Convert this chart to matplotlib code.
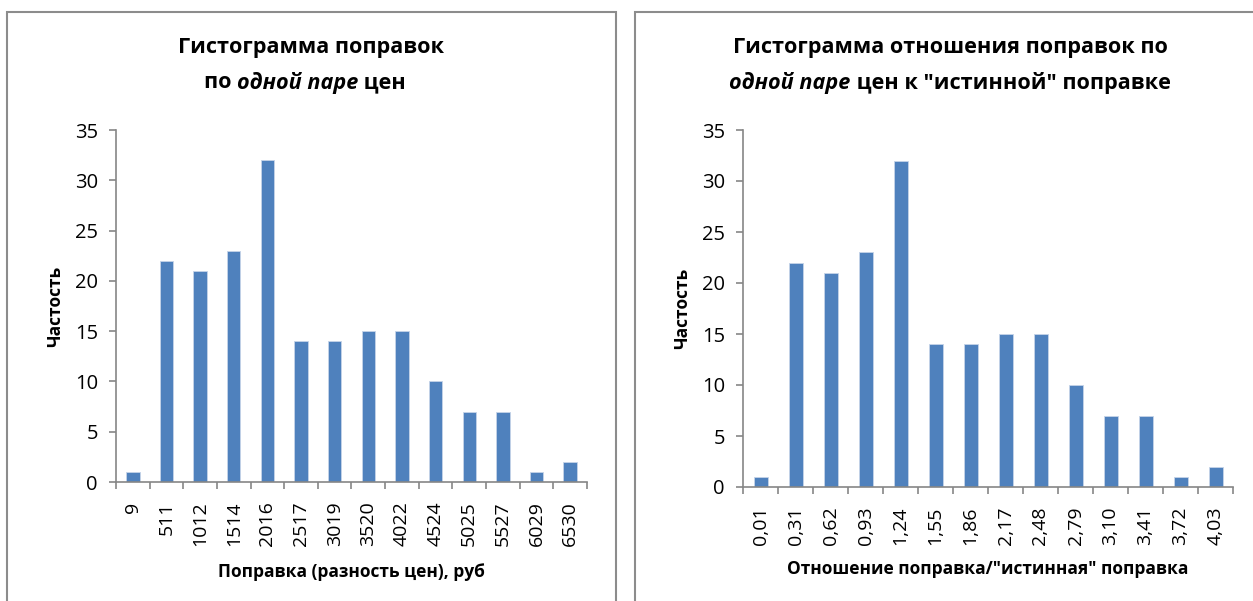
import matplotlib
matplotlib.use('Agg')
import matplotlib.pyplot as plt
from matplotlib.patches import Rectangle

plt.rcParams['font.family'] = ['Open Sans', 'DejaVu Sans']

counts = [1, 22, 21, 23, 32, 14, 14, 15, 15, 10, 7, 7, 1, 2]
labels_rub = ['9', '511', '1012', '1514', '2016', '2517', '3019', '3520',
              '4022', '4524', '5025', '5527', '6029', '6530']
labels_ratio = ['0,01', '0,31', '0,62', '0,93', '1,24', '1,55', '1,86', '2,17',
                '2,48', '2,79', '3,10', '3,41', '3,72', '4,03']

bar_color = '#4F81BD'
axis_grey = '#868686'

fig = plt.figure(figsize=(12.53, 6.01), dpi=100)

# panel frames
fig.patches.append(Rectangle((7/1253, -0.05), 609/1253, 1.05 - 12/601,
                             transform=fig.transFigure, fill=False,
                             edgecolor='#8c8c8c', linewidth=1.5))
fig.patches.append(Rectangle((635/1253, -0.05), 630/1253, 1.05 - 12/601,
                             transform=fig.transFigure, fill=False,
                             edgecolor='#8c8c8c', linewidth=1.5))


def draw_hist(ax, labels, xlabel, xlabelpad):
    x = list(range(len(counts)))
    ax.bar(x, counts, width=0.4, color=bar_color, edgecolor='#c6d4e8',
           linewidth=0.6, zorder=2)
    ax.set_xlim(-0.5, len(counts) - 0.5)
    ax.set_ylim(0, 35)
    ax.set_yticks(range(0, 36, 5))
    ax.set_xticks([i - 0.5 for i in range(len(counts) + 1)])
    ax.set_xticklabels([])
    ax.set_xticks(x, minor=True)
    ax.set_xticklabels(labels, minor=True, rotation=90, fontsize=14)
    ax.tick_params(axis='x', which='major', length=5, color=axis_grey, width=1.2)
    ax.tick_params(axis='x', which='minor', length=0, pad=14)
    ax.tick_params(axis='y', length=5, color=axis_grey, width=1.2, labelsize=14.5, pad=8)
    for s in ['top', 'right']:
        ax.spines[s].set_visible(False)
    for s in ['left', 'bottom']:
        ax.spines[s].set_color(axis_grey)
        ax.spines[s].set_linewidth(1.2)
    ax.set_ylabel('Частость', fontsize=12.5, fontweight='bold', labelpad=8)
    ax.set_xlabel(xlabel, fontsize=12.5, fontweight='bold', labelpad=xlabelpad)


def title_line(parts, xc, y, size=15.6):
    # parts: list of (text, italic)
    r = fig.canvas.get_renderer()
    objs = []
    total = 0
    for txt, it in parts:
        t = fig.text(0, y, txt, fontsize=size, fontweight='bold',
                     style='italic' if it else 'normal', ha='left', va='center')
        w = t.get_window_extent(renderer=r).width / fig.bbox.width
        objs.append((t, w))
        total += w
    x = xc - total / 2
    for t, w in objs:
        t.set_x(x)
        x += w


ax1 = fig.add_axes([116/1253, 1 - 482/601, 471/1253, 352/601])
draw_hist(ax1, labels_rub, 'Поправка (разность цен), руб', 12)

ax2 = fig.add_axes([743/1253, 1 - 487/601, 490/1253, 357/601])
draw_hist(ax2, labels_ratio, 'Отношение поправка/"истинная" поправка', 11)

title_line([('Гистограмма поправок', False)], 311/1253, 1 - 47/601)
title_line([('по ', False), ('одной паре', True), (' цен', False)], 305/1253, 1 - 83/601)
title_line([('Гистограмма отношения поправок по', False)], 950/1253, 1 - 47/601)
title_line([('одной паре', True), (' цен к "истинной" поправке', False)], 950/1253, 1 - 83/601)

fig.savefig('out.png', dpi=100)
